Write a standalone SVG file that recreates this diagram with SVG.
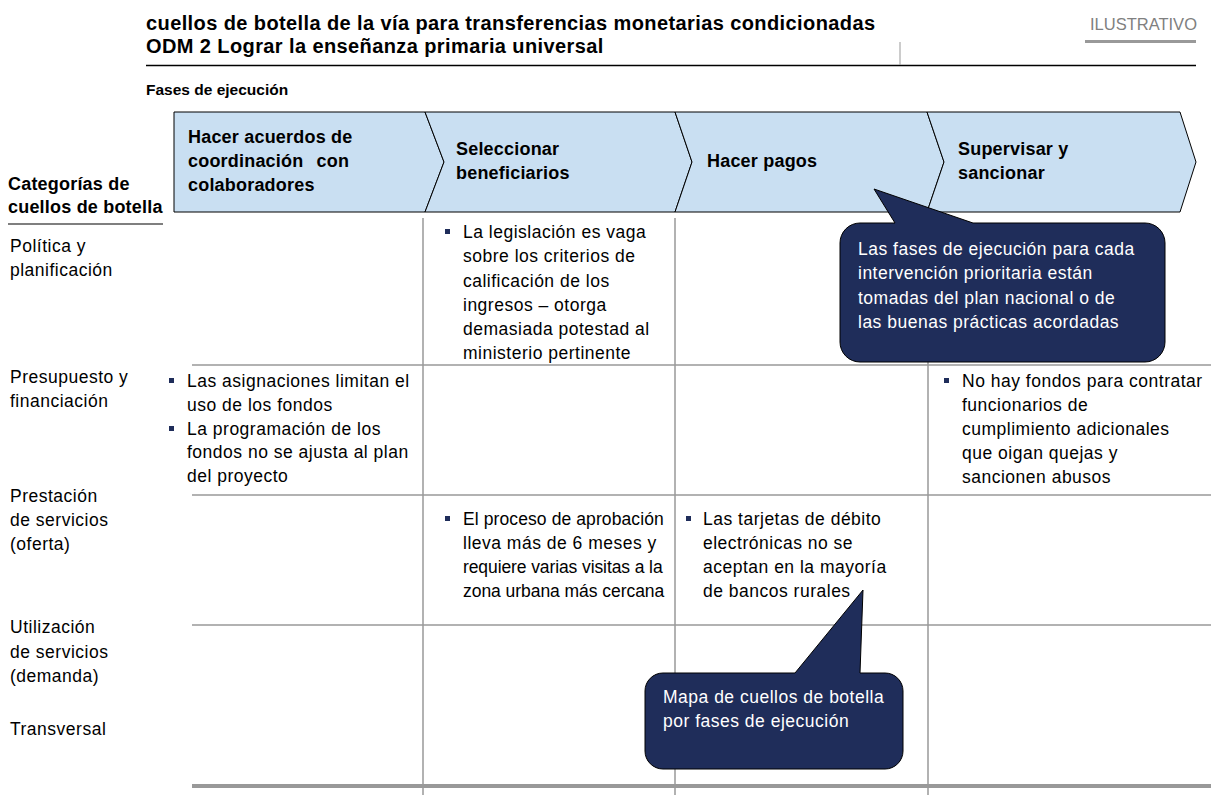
<svg xmlns="http://www.w3.org/2000/svg" width="1211" height="795" viewBox="0 0 1211 795">
<style>
text{font-family:"Liberation Sans",Arial,sans-serif;fill:#000}
.t{font-size:20px;font-weight:bold;letter-spacing:0.4px}
.f{font-size:15.5px;font-weight:bold}
.b{font-size:18px;font-weight:bold;letter-spacing:0.2px}
.x{font-size:17.5px;letter-spacing:0.5px}
.w{font-size:17.5px;letter-spacing:0.5px;fill:#ffffff}
.chev{fill:#c9dff2;stroke:#000;stroke-width:1}
.grid{stroke:#999;stroke-width:1.5;fill:none}
.bul{fill:#1f2d5a}
.call{fill:#1f2d5a;stroke:#000;stroke-width:1}
</style>
<rect width="1211" height="795" fill="#fff"/>
<g id="header">
<text class="t" x="146" y="30">cuellos de botella de la vía para transferencias monetarias condicionadas</text>
<text class="t" x="146" y="53">ODM 2 Lograr la enseñanza primaria universal</text>
<text x="1090" y="30" style="font-size:16.5px;fill:#808080">ILUSTRATIVO</text>
<rect x="1085" y="40" width="111" height="3" fill="#999"/>
<line x1="146" y1="65.5" x2="1196" y2="65.5" stroke="#000" stroke-width="1.4"/>
<line x1="900" y1="42" x2="900" y2="65" stroke="#999" stroke-width="1"/>
<text class="f" x="146" y="95">Fases de ejecución</text>
</g>
<g id="phases">
<g id="phase1"><polygon class="chev" points="174,112 425,112 444,162 425,212 174,212"/>
<text class="b" x="188" y="143">Hacer acuerdos de</text><text class="b" x="188" y="167" style="word-spacing:8px">coordinación con</text><text class="b" x="188" y="191">colaboradores</text></g>
<g id="phase2"><polygon class="chev" points="425,112 675,112 692,162 675,212 425,212 444,162"/>
<text class="b" x="456" y="155">Seleccionar</text><text class="b" x="456" y="179">beneficiarios</text></g>
<g id="phase3"><polygon class="chev" points="675,112 927,112 944,162 927,212 675,212 692,162"/>
<text class="b" x="707" y="167">Hacer pagos</text></g>
<g id="phase4"><polygon class="chev" points="927,112 1180,112 1196,162 1180,212 927,212 944,162"/>
<text class="b" x="958" y="155">Supervisar y</text><text class="b" x="958" y="179">sancionar</text></g>
</g>
<g id="categories">
<text class="b" x="8" y="190">Categorías de</text>
<text class="b" x="8" y="213">cuellos de botella</text>
<line x1="8" y1="224" x2="163" y2="224" stroke="#000" stroke-width="1.2"/>
<text class="x" x="10" y="252">Política y</text><text class="x" x="10" y="276">planificación</text>
<text class="x" x="10" y="383">Presupuesto y</text><text class="x" x="10" y="407">financiación</text>
<text class="x" x="10" y="502">Prestación</text><text class="x" x="10" y="526">de servicios</text><text class="x" x="10" y="550">(oferta)</text>
<text class="x" x="10" y="633">Utilización</text><text class="x" x="10" y="658">de servicios</text><text class="x" x="10" y="682">(demanda)</text>
<text class="x" x="10" y="735">Transversal</text>
</g>
<g id="grid">
<line class="grid" x1="423" y1="218" x2="423" y2="795"/>
<line class="grid" x1="675" y1="218" x2="675" y2="795"/>
<line class="grid" x1="928" y1="218" x2="928" y2="795"/>
<line class="grid" x1="192" y1="365" x2="1211" y2="365"/>
<line class="grid" x1="192" y1="495" x2="1211" y2="495"/>
<line class="grid" x1="192" y1="625" x2="1211" y2="625"/>
<line x1="192" y1="786" x2="1211" y2="786" stroke="#999" stroke-width="4"/>
</g>
<g id="cell-politica-seleccionar">
<rect class="bul" x="445" y="229" width="5" height="5"/>
<text class="x" x="463" y="238">La legislación es vaga</text>
<text class="x" x="463" y="262">sobre los criterios de</text>
<text class="x" x="463" y="287">calificación de los</text>
<text class="x" x="463" y="311">ingresos – otorga</text>
<text class="x" x="463" y="335">demasiada potestad al</text>
<text class="x" x="463" y="359">ministerio pertinente</text>
</g>
<g id="cell-presupuesto-acuerdos">
<rect class="bul" x="169" y="378" width="5" height="5"/>
<text class="x" x="187" y="387">Las asignaciones limitan el</text>
<text class="x" x="187" y="411">uso de los fondos</text>
<rect class="bul" x="169" y="426" width="5" height="5"/>
<text class="x" x="187" y="435">La programación de los</text>
<text class="x" x="187" y="458">fondos no se ajusta al plan</text>
<text class="x" x="187" y="482">del proyecto</text>
</g>
<g id="cell-presupuesto-supervisar">
<rect class="bul" x="944" y="378" width="5" height="5"/>
<text class="x" x="962" y="387">No hay fondos para contratar</text>
<text class="x" x="962" y="411">funcionarios de</text>
<text class="x" x="962" y="435">cumplimiento adicionales</text>
<text class="x" x="962" y="459">que oigan quejas y</text>
<text class="x" x="962" y="483">sancionen abusos</text>
</g>
<g id="cell-prestacion-seleccionar">
<rect class="bul" x="445" y="516" width="5" height="5"/>
<text class="x" x="463" y="525" style="letter-spacing:0.1px">El proceso de aprobación</text>
<text class="x" x="463" y="549">lleva más de 6 meses y</text>
<text class="x" x="463" y="573" style="letter-spacing:-0.1px">requiere varias visitas a la</text>
<text class="x" x="463" y="597" style="letter-spacing:-0.05px">zona urbana más cercana</text>
</g>
<g id="cell-prestacion-pagos">
<rect class="bul" x="686" y="516" width="5" height="5"/>
<text class="x" x="703" y="525">Las tarjetas de débito</text>
<text class="x" x="703" y="549">electrónicas no se</text>
<text class="x" x="703" y="573">aceptan en la mayoría</text>
<text class="x" x="703" y="597">de bancos rurales</text>
</g>
<g id="callout-fases">
<path class="call" d="M 860 223 L 895 223 L 874 189 L 973 223 L 1145 223 A 20 20 0 0 1 1165 243 L 1165 342 A 20 20 0 0 1 1145 362 L 860 362 A 20 20 0 0 1 840 342 L 840 243 A 20 20 0 0 1 860 223 Z"/>
<text class="w" x="858" y="255">Las fases de ejecución para cada</text>
<text class="w" x="858" y="279">intervención prioritaria están</text>
<text class="w" x="858" y="304">tomadas del plan nacional o de</text>
<text class="w" x="858" y="328">las buenas prácticas acordadas</text>
</g>
<g id="callout-mapa">
<path class="call" d="M 663 673 L 795 673 L 863 590 L 860 673 L 885 673 A 18 18 0 0 1 903 691 L 903 751 A 18 18 0 0 1 885 769 L 663 769 A 18 18 0 0 1 645 751 L 645 691 A 18 18 0 0 1 663 673 Z"/>
<text class="w" x="663" y="703">Mapa de cuellos de botella</text>
<text class="w" x="663" y="727">por fases de ejecución</text>
</g>
</svg>
